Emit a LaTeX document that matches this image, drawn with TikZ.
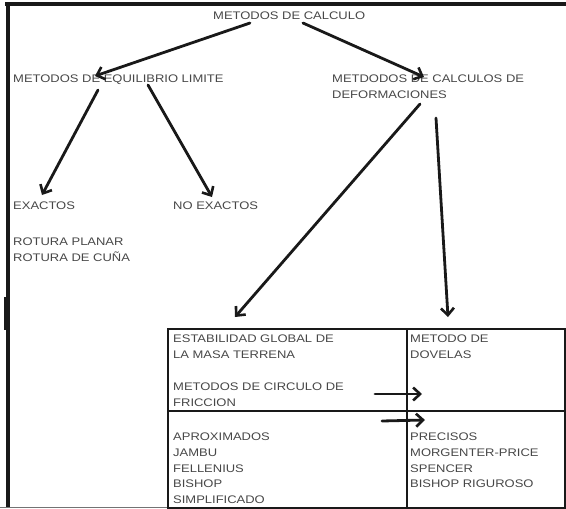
\documentclass[tikz,border=0pt]{standalone}
\usepackage{fontspec}
\setmainfont{Liberation Sans}[FakeStretch=1.18]
\usetikzlibrary{arrows.meta}
\tikzset{
  txt/.style={anchor=north west, inner sep=0pt, align=left, text=black!72,
    font=\fontsize{11}{15.7}\selectfont},
  conn/.style={line width=2.8pt, draw=black!90, line cap=round,
    -{Straight Barb[length=7pt,width=13pt,line width=2.6pt]}},
  frameline/.style={line width=4pt, draw=black!90},
  cell/.style={line width=2pt, draw=black!90}
}
\begin{document}
\begin{tikzpicture}[x=1pt,y=-1pt]
\useasboundingbox (0,0) rectangle (566,509);
% outer frame
\draw[frameline] (5,4) -- (566,4);
\draw[frameline] (7.5,2) -- (7.5,508);
\draw[line width=2pt, draw=black!90] (5,297) -- (5,330);
\draw[line width=1pt, draw=black!55] (0,507.5) -- (168,507.5);
% table
\draw[cell] (168,329) rectangle (565,508);
\draw[cell] (407,329) -- (407,508);
\draw[cell] (168,411) -- (565,411);
% texts
\node[txt] (title) at (213,12) {METODOS DE CALCULO};
\node[txt] (eq) at (13,75) {METODOS DE EQUILIBRIO LIMITE};
\node[txt] (def) at (332,75) {METDODOS DE CALCULOS DE\\DEFORMACIONES};
\node[txt] (ex) at (13,202) {EXACTOS};
\node[txt] (noex) at (173,202) {NO EXACTOS};
\node[txt] (rot) at (13,238) {ROTURA PLANAR\\ROTURA DE CUÑA};
\node[txt] (estab) at (173,335) {ESTABILIDAD GLOBAL DE\\LA MASA TERRENA};
\node[txt] (circ) at (173,383) {METODOS DE CIRCULO DE\\FRICCION};
\node[txt] (dov) at (410,335) {METODO DE\\DOVELAS};
\node[txt] (aprox) at (173,433) {APROXIMADOS\\JAMBU\\FELLENIUS\\BISHOP\\SIMPLIFICADO};
\node[txt] (prec) at (410,433) {PRECISOS\\MORGENTER-PRICE\\SPENCER\\BISHOP RIGUROSO};
% connector end points
\coordinate (a1s) at (250,23);  \coordinate (a1e) at (95,76);
\coordinate (a2s) at (303,23);  \coordinate (a2e) at (424,77);
\coordinate (a3s) at (98,90);   \coordinate (a3e) at (42,195);
\coordinate (a4s) at (148,85);  \coordinate (a4e) at (212,197);
\coordinate (a5s) at (420,104); \coordinate (a5e) at (235,317);
\coordinate (a6s) at (436,118); \coordinate (a6e) at (448,317);
\coordinate (a7s) at (375,394); \coordinate (a7e) at (422,394);
\coordinate (a8s) at (382,421); \coordinate (a8e) at (425,420);
\draw[conn] (a1s) -- (a1e);
\draw[conn] (a2s) -- (a2e);
\draw[conn] (a3s) -- (a3e);
\draw[conn] (a4s) -- (a4e);
\draw[conn] (a5s) -- (a5e);
\draw[conn] (a6s) -- (a6e);
\draw[conn] (a7s) -- (a7e);
\draw[conn] (a8s) -- (a8e);
\end{tikzpicture}
\end{document}
